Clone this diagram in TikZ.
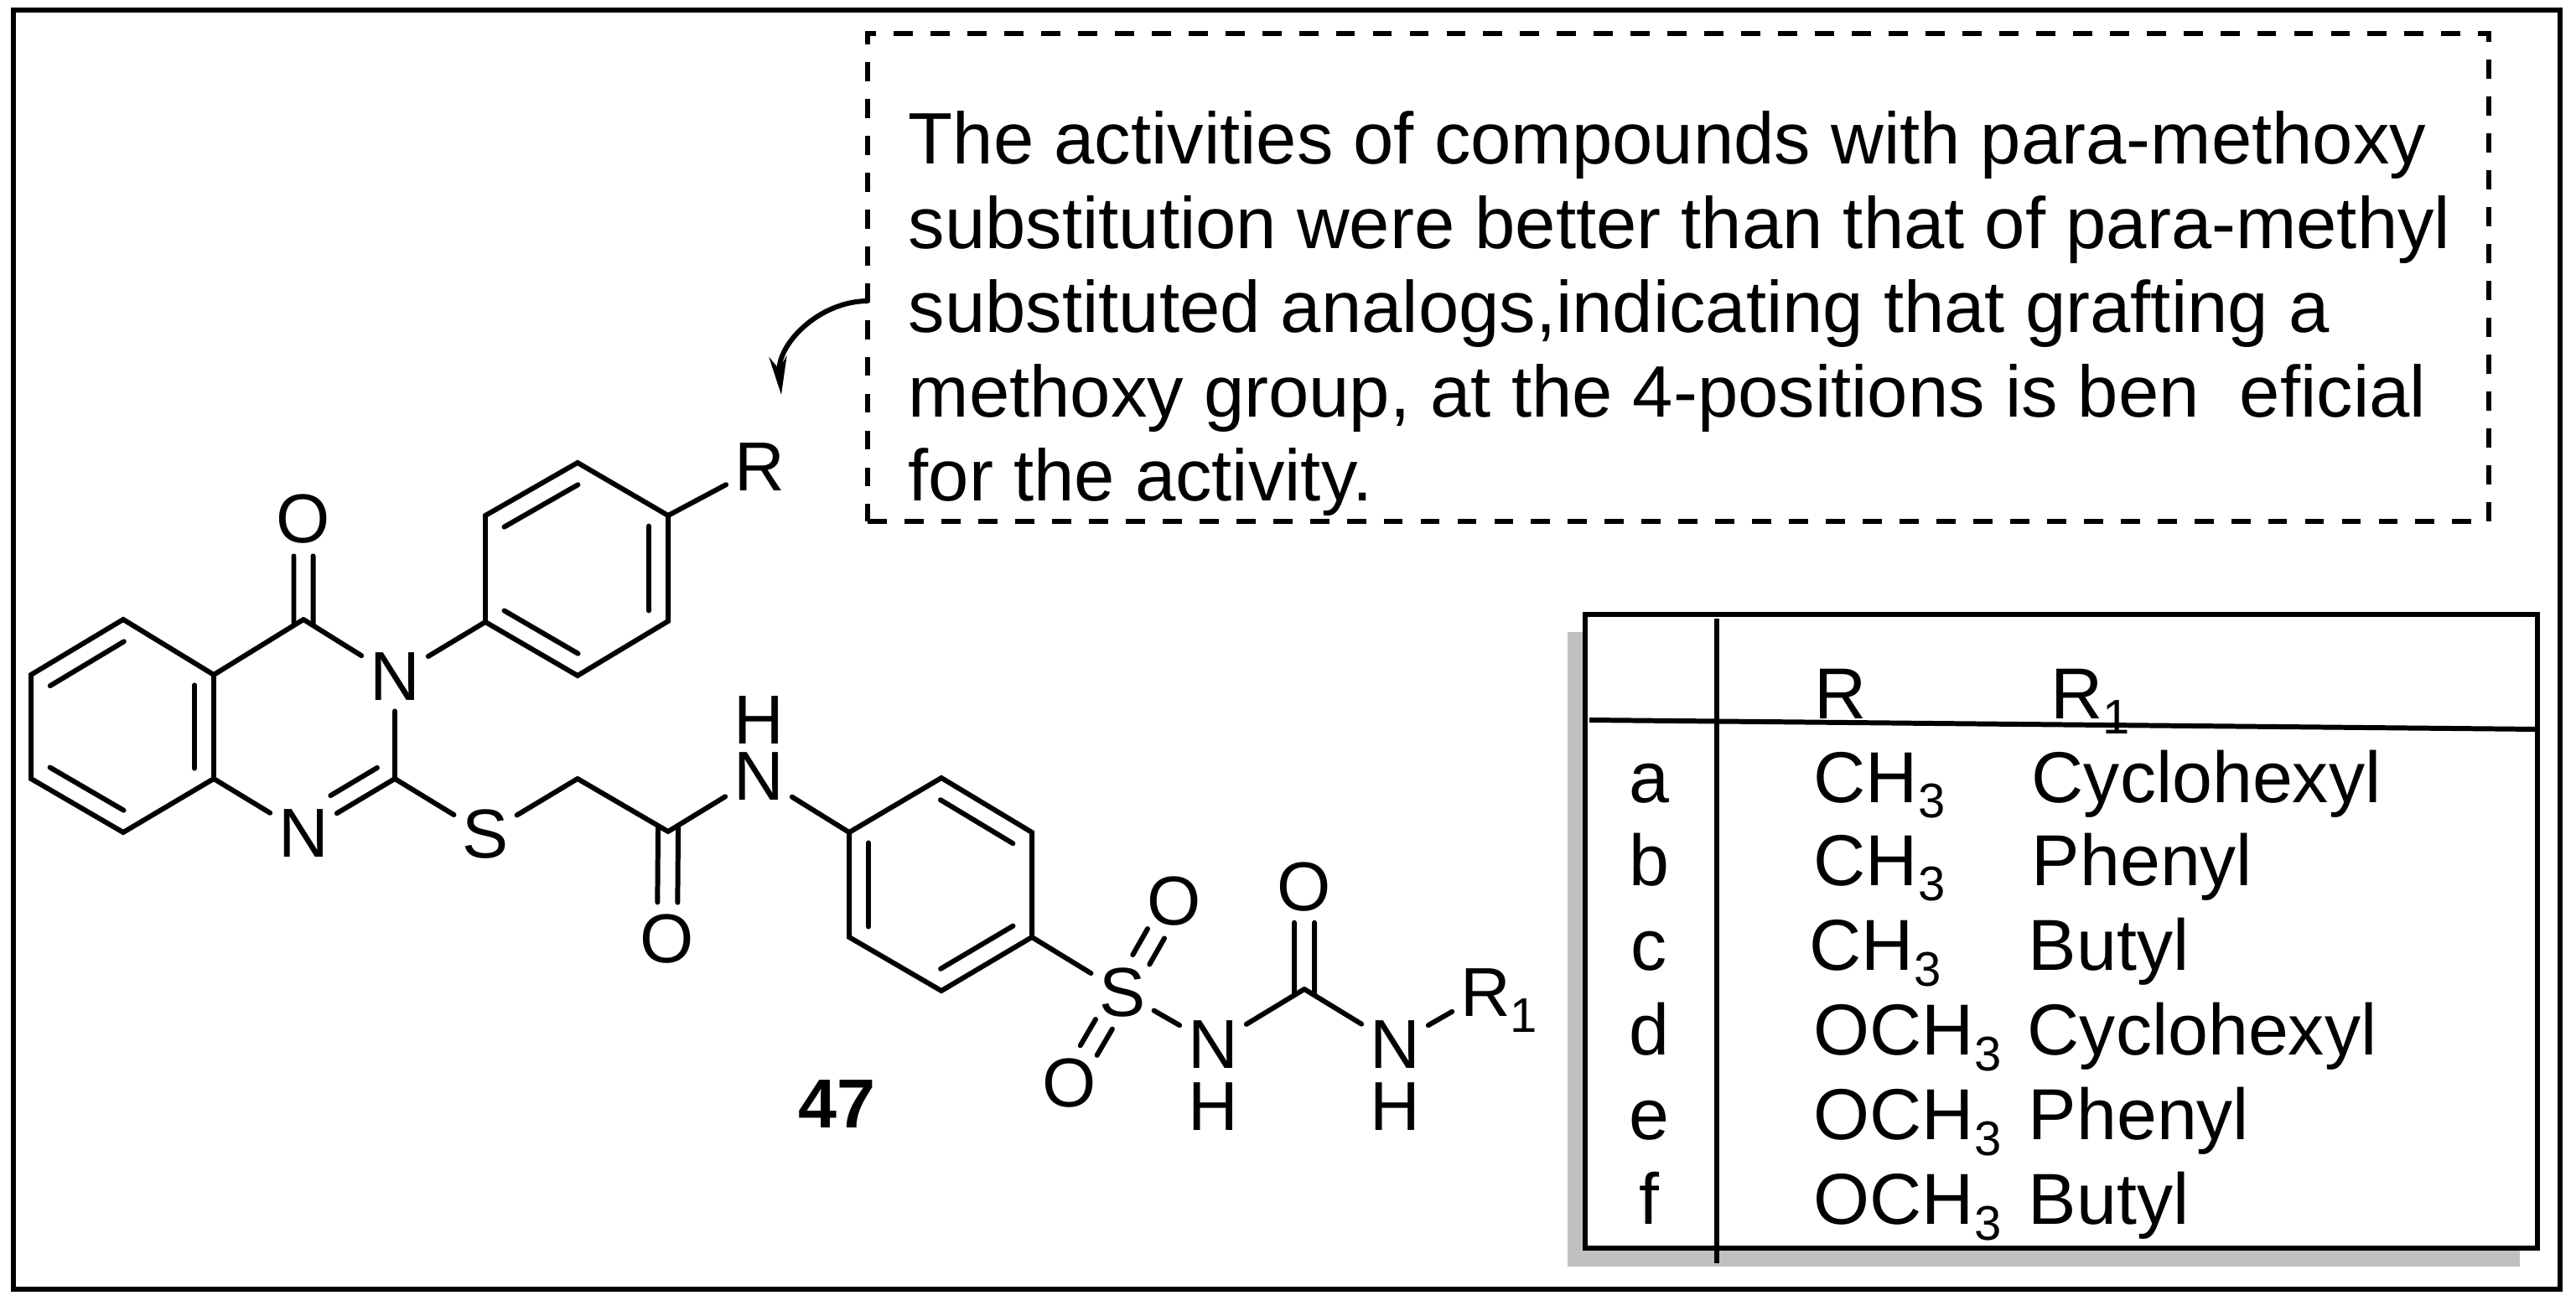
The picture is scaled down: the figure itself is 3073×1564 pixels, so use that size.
\documentclass[tikz,border=0pt]{standalone}
\usepackage{fontspec}
\setmainfont{Liberation Sans}
\usetikzlibrary{
    arrows.meta,
    calc
}
\definecolor{shadowgray}{HTML}{C0C0C0}
\newcommand{\subnum}[1]{\smash{\raisebox{-5.4pt}{\fontsize{16.5}{16.5}\selectfont #1}}}
\newcommand{\innerbond}[5]{\draw[bond] ($(#1)!#4!(#2)!#3!90:(#2)$) -- ($(#1)!#5!(#2)!#3!90:(#2)$);}
\tikzset{
    bond/.style={line width=1.7pt, line cap=round, line join=miter},
    atom/.style={inner sep=0pt, outer xsep=0.1cm, outer ysep=0.13cm, font=\fontsize{23.5}{23.5}\selectfont},
    cell/.style={inner sep=0pt, anchor=base west, font=\fontsize{24.5}{24.5}\selectfont},
    rowlabel/.style={inner sep=0pt, anchor=base, font=\fontsize{24.5}{24.5}\selectfont}
}

\begin{document}
\begin{tikzpicture}[x=0.01cm, y=-0.01cm]
    \useasboundingbox (0, 0) rectangle (3073, 1564);
    \draw[line width=1.7pt] (16, 12) rectangle (3054, 1538);

    \node[draw, line width=1.8pt, dash pattern=on 6.5pt off 6pt, minimum width=19.325cm, minimum height=5.82cm] (note) at (2002, 331) {};
    \node[anchor=north west, inner sep=0pt, align=left, font=\fontsize{24.7}{28.6}\selectfont] (notetext) at (1083, 132) {The activities of compounds with para-methoxy\\substitution were better than that of para-methyl\\substituted analogs,indicating that grafting a\\methoxy group, at the 4-positions is ben\ \ eficial\\for the activity.};
    \coordinate (arrowstart) at (1036, 359);
    \coordinate (arrowend) at (932, 471);
    \draw[line width=1.7pt, -{Stealth[length=13pt, width=6pt]}] (arrowstart) to[out=180, in=95] (arrowend);

    \coordinate (b1) at (147, 739);
    \coordinate (b2) at (255, 805);
    \coordinate (b3) at (255, 929);
    \coordinate (b4) at (147, 993);
    \coordinate (b5) at (37, 929);
    \coordinate (b6) at (37, 805);
    \coordinate (c4) at (362, 739);
    \coordinate (c2) at (471, 929);
    \coordinate (ch2) at (689, 929);
    \coordinate (co) at (797, 992);
    \coordinate (pa) at (579, 615);
    \coordinate (pb) at (689, 552);
    \coordinate (pc) at (797, 615);
    \coordinate (pd) at (797, 741);
    \coordinate (pe) at (689, 806);
    \coordinate (pf) at (579, 742);
    \coordinate (qa) at (1013, 993);
    \coordinate (qb) at (1123, 928);
    \coordinate (qc) at (1231, 993);
    \coordinate (qd) at (1231, 1118);
    \coordinate (qe) at (1123, 1182);
    \coordinate (qf) at (1013, 1118);
    \coordinate (urea) at (1556, 1180);

    \node[atom] (o4) at (362, 619) {O};
    \node[atom] (n3) at (471, 807) {N};
    \node[atom] (n1) at (362, 994) {N};
    \node[atom] (s) at (579, 995) {S};
    \node[atom] (oamide) at (796, 1120) {O};
    \node[atom] (namide) at (905, 926) {N};
    \node[atom] (hamide) at (905, 859) {H};
    \node[atom] (r) at (906, 557) {R};
    \node[atom] (so2) at (1339, 1184) {S};
    \node[atom] (oup) at (1401, 1075) {O};
    \node[atom] (odown) at (1276, 1292) {O};
    \node[atom] (nsulf) at (1447, 1246) {N};
    \node[atom] (hsulf) at (1447, 1320) {H};
    \node[atom] (ourea) at (1556, 1058) {O};
    \node[atom] (nurea) at (1664, 1246) {N};
    \node[atom] (hurea) at (1664, 1320) {H};
    \node[atom] (rone) at (1772, 1184) {R\rlap{\subnum{1}}};
    \node[atom, font=\fontsize{23.5}{23.5}\selectfont\bfseries] (cpd) at (998, 1317) {47};

    \draw[bond] (b1) -- (b2) -- (b3) -- (b4) -- (b5) -- (b6) -- cycle;
    \draw[bond] (pa) -- (pb) -- (pc) -- (pd) -- (pe) -- (pf) -- cycle;
    \draw[bond] (qa) -- (qb) -- (qc) -- (qd) -- (qe) -- (qf) -- cycle;
    \draw[bond]
    (b2) -- (c4)
    (c4) -- (n3)
    (n3) -- (pf)
    (n3) -- (c2)
    (c2) -- (n1)
    (n1) -- (b3)
    (c2) -- (s)
    (s) -- (ch2)
    (ch2) -- (co)
    (co) -- (namide)
    (namide) -- (qa)
    (pc) -- (r)
    (qd) -- (so2)
    (so2) -- (nsulf)
    (nsulf) -- (urea)
    (urea) -- (nurea)
    (nurea) -- (rone);

    \innerbond{b6}{b1}{-0.23cm}{0.1}{0.9}
    \innerbond{b2}{b3}{-0.23cm}{0.1}{0.9}
    \innerbond{b4}{b5}{-0.23cm}{0.1}{0.9}
    \innerbond{pa}{pb}{-0.23cm}{0.1}{0.9}
    \innerbond{pc}{pd}{-0.23cm}{0.1}{0.9}
    \innerbond{pe}{pf}{-0.23cm}{0.1}{0.9}
    \innerbond{qf}{qa}{-0.23cm}{0.1}{0.9}
    \innerbond{qb}{qc}{-0.23cm}{0.1}{0.9}
    \innerbond{qd}{qe}{-0.23cm}{0.1}{0.9}
    \innerbond{c2}{n1}{-0.22cm}{0.09}{0.6}
    \innerbond{c4}{o4}{0.115cm}{-0.05}{0.63}
    \innerbond{c4}{o4}{-0.115cm}{-0.05}{0.63}
    \innerbond{co}{oamide}{0.12cm}{-0.05}{0.66}
    \innerbond{co}{oamide}{-0.12cm}{-0.05}{0.66}
    \innerbond{urea}{ourea}{0.12cm}{-0.05}{0.65}
    \innerbond{urea}{ourea}{-0.12cm}{-0.05}{0.65}
    \innerbond{so2}{oup}{0.115cm}{0.36}{0.645}
    \innerbond{so2}{oup}{-0.115cm}{0.36}{0.645}
    \innerbond{so2}{odown}{0.115cm}{0.35}{0.64}
    \innerbond{so2}{odown}{-0.115cm}{0.35}{0.64}

    \fill[shadowgray] (1870, 754) rectangle (3006, 1511);
    \draw[line width=1.7pt, fill=white] (1891, 733) rectangle (3027, 1489);
    \coordinate (vtop) at (2048, 738);
    \coordinate (vbottom) at (2048, 1507);
    \coordinate (hleft) at (1896, 859);
    \coordinate (hright) at (3027, 870);
    \draw[line width=1.7pt] (vtop) -- (vbottom);
    \draw[line width=1.7pt] (hleft) -- (hright);

    \node[cell] (headr) at (2164, 857) {R};
    \node[cell] (headrone) at (2446, 857) {R\subnum{1}};

    \node[rowlabel] (rowa) at (1967, 957) {a};
    \node[cell] (ra) at (2163, 957) {CH\subnum{3}};
    \node[cell] (ronea) at (2423, 957) {Cyclohexyl};
    \node[rowlabel] (rowb) at (1967, 1056) {b};
    \node[cell] (rb) at (2163, 1056) {CH\subnum{3}};
    \node[cell] (roneb) at (2423, 1056) {Phenyl};
    \node[rowlabel] (rowc) at (1967, 1157) {c};
    \node[cell] (rc) at (2158, 1157) {CH\subnum{3}};
    \node[cell] (ronec) at (2419, 1157) {Butyl};
    \node[rowlabel] (rowd) at (1967, 1258) {d};
    \node[cell] (rd) at (2163, 1258) {OCH\subnum{3}};
    \node[cell] (roned) at (2418, 1258) {Cyclohexyl};
    \node[rowlabel] (rowe) at (1967, 1359) {e};
    \node[cell] (re) at (2163, 1359) {OCH\subnum{3}};
    \node[cell] (ronee) at (2419, 1359) {Phenyl};
    \node[rowlabel] (rowf) at (1967, 1460) {f};
    \node[cell] (rf) at (2163, 1460) {OCH\subnum{3}};
    \node[cell] (ronef) at (2419, 1460) {Butyl};
\end{tikzpicture}
\end{document}
